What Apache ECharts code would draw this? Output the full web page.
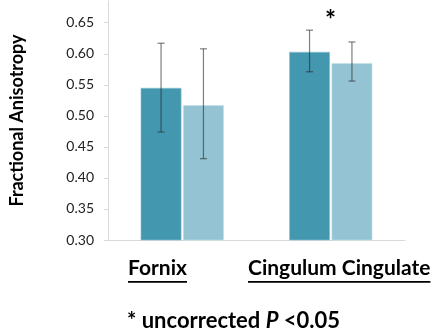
<!DOCTYPE html>
<html><head><meta charset="utf-8">
<script src="https://cdn.jsdelivr.net/npm/echarts@6/dist/echarts.min.js"></script>
<style>html,body{margin:0;padding:0;background:#fff}#c{width:440px;height:336px}</style>
</head><body><div id="c"></div>
<script>
var categories = ['Fornix', 'Cingulum Cingulate'];
var seriesA = [0.545, 0.603];
var seriesB = [0.517, 0.585];
var errA = [[0.474, 0.617], [0.571, 0.638]];
var errB = [[0.431, 0.608], [0.556, 0.619]];
var yTicks = { min: 0.30, max: 0.685, interval: 0.05 };
var sigMarks = ['', '*'];
var footnote = ['* uncorrected ', 'P', ' <0.05'];

var FONT = 'Lato';
var chart = echarts.init(document.getElementById('c'));
var gapFrac = 0.44, barGapFrac = 0.04;

var mctx = document.createElement('canvas').getContext('2d');
function textW(t, size) { mctx.font = 'bold ' + size + 'px ' + FONT; return mctx.measureText(t).width; }

function errItem(sign) {
  return function (params, api) {
    var cat = api.value(0);
    var lo = api.coord([cat, api.value(1)]);
    var hi = api.coord([cat, api.value(2)]);
    var band = api.size([1, 0])[0];
    var bw = band * (1 - gapFrac) / (2 + barGapFrac);
    var off = sign * (bw * (1 + barGapFrac)) / 2;
    var x = lo[0] + off;
    var st = { stroke: 'rgba(40,40,40,0.6)', lineWidth: 1.2 };
    return { type: 'group', children: [
      { type: 'line', shape: { x1: x, y1: lo[1], x2: x, y2: hi[1] }, style: st },
      { type: 'line', shape: { x1: x - 3.5, y1: lo[1], x2: x + 3.5, y2: lo[1] }, style: st },
      { type: 'line', shape: { x1: x - 3.5, y1: hi[1], x2: x + 3.5, y2: hi[1] }, style: st }
    ]};
  };
}

var CAT_SIZE = 21;
var w0 = textW(categories[0], CAT_SIZE), w1 = textW(categories[1], CAT_SIZE);

chart.setOption({
  animation: false,
  grid: { left: 105, right: 35, top: 1, bottom: 96 },
  xAxis: {
    type: 'category', data: categories,
    axisLine: { lineStyle: { color: '#d9d9d9' } },
    axisTick: { show: false }, axisLabel: { show: false }
  },
  yAxis: {
    type: 'value', min: yTicks.min, max: yTicks.max, interval: yTicks.interval,
    name: 'Fractional Anisotropy', nameLocation: 'middle', nameGap: 82,
    nameTextStyle: { fontFamily: FONT, fontWeight: 'bold', fontSize: 18, color: '#000' },
    axisLine: { show: true, lineStyle: { color: '#d9d9d9' } },
    axisTick: { show: true, length: 4, lineStyle: { color: '#d9d9d9' } },
    splitLine: { show: false },
    axisLabel: { showMaxLabel: false, margin: 14, fontFamily: FONT, fontSize: 14, color: '#222',
      formatter: function (v) { return v.toFixed(2); } }
  },
  series: [
    { type: 'bar', data: seriesA, barCategoryGap: (gapFrac * 100) + '%', barGap: (barGapFrac * 100) + '%',
      itemStyle: { color: '#4397ae', borderColor: '#8cc4d2', borderWidth: 0.6 },
      label: { show: true, position: 'top', distance: 26, formatter: function (p) { return sigMarks[p.dataIndex]; },
        fontFamily: FONT, fontWeight: 'bold', fontSize: 26, color: '#000', offset: [21, 8] } },
    { type: 'bar', data: seriesB,
      itemStyle: { color: '#94c3d4', borderColor: '#c4e0ea', borderWidth: 0.6 } },
    { type: 'custom', renderItem: errItem(-1), z: 5,
      data: errA.map(function (e, i) { return [i, e[0], e[1]]; }) },
    { type: 'custom', renderItem: errItem(1), z: 5,
      data: errB.map(function (e, i) { return [i, e[0], e[1]]; }) }
  ],
  graphic: [
    { type: 'text', left: 128, top: 258, style: { text: categories[0], fontFamily: FONT, fontWeight: 'bold', fontSize: CAT_SIZE, fill: '#000' } },
    { type: 'rect', shape: { x: 128, y: 281, width: w0, height: 1.8 }, style: { fill: '#000' } },
    { type: 'text', left: 248, top: 258, style: { text: categories[1], fontFamily: FONT, fontWeight: 'bold', fontSize: CAT_SIZE, fill: '#000' } },
    { type: 'rect', shape: { x: 248, y: 281, width: w1, height: 1.8 }, style: { fill: '#000' } },
    { type: 'text', left: 127, top: 310, style: {
      text: '{a|' + footnote[0] + '}{b|' + footnote[1] + '}{a|' + footnote[2] + '}',
      rich: {
        a: { fontFamily: FONT, fontWeight: 'bold', fontSize: 22, fill: '#000' },
        b: { fontFamily: FONT, fontWeight: 'bold', fontStyle: 'italic', fontSize: 22, fill: '#000' }
      } } }
  ]
});
</script></body></html>
